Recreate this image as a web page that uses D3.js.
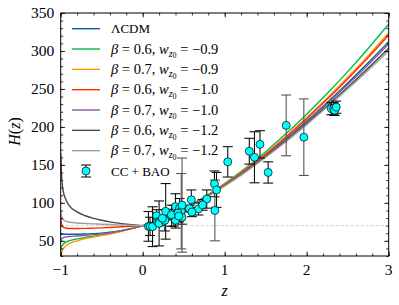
<!DOCTYPE html>
<html>
<head>
<meta charset="utf-8">
<script src="https://cdn.jsdelivr.net/npm/d3@7"></script>
<style>
	body { margin: 0; background: #fff; }
	svg { display: block; font-family: "Liberation Serif", "DejaVu Serif", serif; }
</style>
</head>
<body>
<svg id="chart"></svg>
<script>
// redshift grid the model curves were read at
const zGrid = [-0.999, -0.99, -0.97, -0.94, -0.9, -0.8, -0.7, -0.6, -0.5, -0.4, -0.3, -0.2, -0.1, 0,
	0.25, 0.5, 0.75, 1, 1.25, 1.5, 1.75, 2, 2.25, 2.5, 2.75, 3]

const hLCDM = [58.6, 58.6, 58.6, 58.6, 58.6, 58.7, 58.9, 59.4, 60.1, 61.2, 62.7, 64.7, 67.1, 70,
	79.4, 91.6, 106.3, 123.2, 142.0, 162.5, 184.4, 207.7, 232.2, 257.8, 284.5, 312.3]
const hB06W09 = [38, 42, 45.5, 48, 50, 52.5, 54.5, 56, 57.8, 59.7, 62, 64.5, 67.2, 70,
	79.6, 92.2, 107.6, 125.4, 145.4, 167.4, 191.2, 216.8, 244.0, 272.8, 303.3, 335.5]
const hB07W09 = [28, 34, 39, 43, 46, 50, 53, 55, 57, 59, 61.5, 64, 67, 70,
	79.5, 91.9, 106.9, 124.3, 143.7, 164.9, 187.8, 212.3, 238.1, 265.3, 293.9, 324.0]
const hB06W10 = [82, 72, 68, 66.8, 66.3, 66.2, 66.4, 66.7, 67.1, 67.6, 68.2, 68.8, 69.4, 70,
	79.5, 91.8, 106.7, 124.0, 143.1, 163.9, 186.7, 210.8, 236.3, 263.2, 291.4, 321.0]
const hB07W10 = [50, 52.5, 54, 55, 55.6, 56.4, 57.2, 58.1, 59.2, 60.6, 62.4, 64.6, 67.1, 70,
	79.4, 91.6, 106.2, 123.0, 141.7, 161.9, 183.5, 206.4, 230.6, 255.8, 282.0, 309.2]
const hB06W12 = [165, 138, 116, 105, 97, 88, 83, 79.5, 77, 75, 73.3, 72, 70.9, 70,
	79.3, 91.4, 105.8, 122.5, 140.7, 160.7, 181.8, 204.3, 227.7, 252.1, 277.4, 303.6]
const hB07W12 = [88, 82, 78, 76, 74.8, 73.5, 72.8, 72.3, 71.8, 71.4, 71, 70.7, 70.3, 70,
	79.3, 91.3, 105.7, 122.2, 140.2, 160.0, 180.8, 203.0, 226.1, 249.9, 274.7, 300.3]

const modelBeta = [0.6, 0.7, 0.6, 0.7, 0.6, 0.7]
const modelW = ["\u22120.9", "\u22120.9", "\u22121.0", "\u22121.0", "\u22121.2", "\u22121.2"]

// CC + BAO measurements
const obsZ = [0.07, 0.09, 0.12, 0.17, 0.179, 0.199, 0.2, 0.27, 0.28, 0.352, 0.3802, 0.4, 0.4004, 0.4247,
	0.4497, 0.47, 0.4783, 0.48, 0.593, 0.68, 0.781, 0.875, 0.88, 0.9, 1.037, 1.3, 1.363, 1.43, 1.53,
	1.75, 1.965, 0.24, 0.35, 0.43, 0.44, 0.57, 0.6, 0.73, 2.3, 2.33, 2.34, 2.36]
const obsH = [69, 69, 68.6, 83, 75, 75, 72.9, 77, 88.8, 83, 83, 95, 77, 87.1,
	92.8, 89, 80.9, 97, 104, 92, 105, 125, 90, 117, 154, 168, 160, 177, 140,
	202, 186.5, 79.69, 84.4, 86.45, 82.6, 92.4, 87.9, 97.3, 224, 224, 222, 226]
const obsErr = [19.6, 12, 26.2, 8, 4, 5, 29.6, 14, 36.6, 14, 13.5, 17, 10.2, 11.2,
	12.9, 49.6, 9, 62, 13, 8, 12, 17, 40, 23, 20, 17, 33.6, 18, 14,
	40, 50.4, 2.99, 7, 3.68, 7.8, 4.5, 6.1, 7, 8, 8, 7, 8]
const obsSet = ["a", "a", "a", "a", "a", "a", "a", "a", "a", "a", "a", "a", "a", "a",
	"a", "b", "a", "b", "a", "a", "a", "a", "b", "a", "a", "a", "a", "a", "a",
	"b", "b", "a", "a", "a", "a", "a", "a", "a", "a", "a", "a", "a"]

const xTicks = [-1, 0, 1, 2, 3]
const yTicks = [50, 100, 150, 200, 250, 300, 350]
const h0Line = 70

const colors = ["#0C5DA5", "#00B945", "#FF9500", "#FF2C00", "#845B97", "#474747", "#9e9e9e"]

function drawChart() {
	const viewWidth = 399
	const viewHeight = 305
	const margin = { left: 60.7, right: 10.3, top: 13, bottom: 49 }
	const width = viewWidth - margin.left - margin.right
	const height = viewHeight - margin.top - margin.bottom

	const svg = d3.select("#chart")
		.attr("width", viewWidth)
		.attr("height", viewHeight)
		.append("g")
		.attr("transform", "translate(" + margin.left + "," + margin.top + ")")

	const x = d3.scaleLinear().domain([-1, 3]).range([0, width])
	const y = d3.scaleLinear().domain([30, 350]).range([height, 0])

	svg.append("defs").append("clipPath")
		.attr("id", "clip")
		.append("rect")
		.attr("width", width)
		.attr("height", height)

	const plot = svg.append("g").attr("clip-path", "url(#clip)")

	// H0 reference line
	plot.append("line")
		.attr("x1", 0).attr("x2", width)
		.attr("y1", y(h0Line)).attr("y2", y(h0Line))
		.attr("stroke", "#c8c8c8")
		.attr("stroke-width", 0.8)
		.attr("stroke-dasharray", "3,2")

	const series = [hLCDM, hB06W09, hB07W09, hB06W10, hB07W10, hB06W12, hB07W12]
	const line = d3.line()
		.x(function (d, i) { return x(zGrid[i]) })
		.y(function (d) { return y(d) })
		.curve(d3.curveMonotoneX)

	plot.selectAll("path.model")
		.data(series)
		.enter()
		.append("path")
		.attr("class", "model")
		.attr("d", line)
		.attr("fill", "none")
		.attr("stroke", function (d, i) { return colors[i] })
		.attr("stroke-width", 1.4)

	// error bars, then markers on top
	const obs = obsZ.map(function (z, i) { return { z: z, h: obsH[i], e: obsErr[i], set: obsSet[i] } })
	const barColor = function (d) { return d.set === "b" ? "#555" : "#111" }
	const cap = 5

	const bars = svg.append("g").selectAll("g")
		.data(obs)
		.enter()
		.append("g")
		.attr("stroke", barColor)
		.attr("stroke-width", 1.1)

	bars.append("line")
		.attr("x1", function (d) { return x(d.z) }).attr("x2", function (d) { return x(d.z) })
		.attr("y1", function (d) { return y(d.h - d.e) }).attr("y2", function (d) { return y(d.h + d.e) })
	bars.append("line")
		.attr("x1", function (d) { return x(d.z) - cap }).attr("x2", function (d) { return x(d.z) + cap })
		.attr("y1", function (d) { return y(d.h - d.e) }).attr("y2", function (d) { return y(d.h - d.e) })
	bars.append("line")
		.attr("x1", function (d) { return x(d.z) - cap }).attr("x2", function (d) { return x(d.z) + cap })
		.attr("y1", function (d) { return y(d.h + d.e) }).attr("y2", function (d) { return y(d.h + d.e) })

	svg.append("g").selectAll("circle")
		.data(obs)
		.enter()
		.append("circle")
		.attr("cx", function (d) { return x(d.z) })
		.attr("cy", function (d) { return y(d.h) })
		.attr("r", 4)
		.attr("fill", "#00FFFF")
		.attr("stroke", "#000")
		.attr("stroke-width", 0.7)

	// axes: inward ticks on all four sides
	const xMinor = d3.range(-1, 3.001, 0.2)
	const yMinor = d3.range(30, 351, 10)

	function tickAxis(axisFn, scale, values, size) {
		return axisFn(scale).tickValues(values).tickSize(size).tickFormat("")
	}

	const axes = [
		{ fn: d3.axisBottom, s: x, t: "translate(0," + height + ")", major: xTicks, minor: xMinor },
		{ fn: d3.axisTop, s: x, t: "translate(0,0)", major: xTicks, minor: xMinor },
		{ fn: d3.axisLeft, s: y, t: "translate(0,0)", major: yTicks, minor: yMinor },
		{ fn: d3.axisRight, s: y, t: "translate(" + width + ",0)", major: yTicks, minor: yMinor }
	]
	axes.forEach(function (a) {
		[[a.major, -4.5], [a.minor, -2.5]].forEach(function (p) {
			const g = svg.append("g")
				.attr("transform", a.t)
				.call(tickAxis(a.fn, a.s, p[0], p[1]))
			g.select(".domain").remove()
			g.selectAll("line").attr("stroke", "#000").attr("stroke-width", 0.8)
		})
	})

	svg.append("rect")
		.attr("width", width)
		.attr("height", height)
		.attr("fill", "none")
		.attr("stroke", "#000")
		.attr("stroke-width", 1)

	svg.selectAll("text.xlab")
		.data(xTicks)
		.enter()
		.append("text")
		.attr("class", "xlab")
		.attr("x", function (d) { return x(d) })
		.attr("y", height + 19)
		.attr("text-anchor", "middle")
		.attr("font-size", 15.5)
		.text(function (d) { return d < 0 ? "\u2212" + Math.abs(d) : d })

	svg.selectAll("text.ylab")
		.data(yTicks)
		.enter()
		.append("text")
		.attr("class", "ylab")
		.attr("x", -6.5)
		.attr("y", function (d) { return y(d) })
		.attr("dy", "0.34em")
		.attr("text-anchor", "end")
		.attr("font-size", 15.5)
		.text(function (d) { return d })

	svg.append("text")
		.attr("x", width / 2)
		.attr("y", height + 40)
		.attr("text-anchor", "middle")
		.attr("font-size", 16)
		.attr("font-style", "italic")
		.text("z")

	const yTitle = svg.append("text")
		.attr("transform", "translate(" + (-41) + "," + (height / 2 - 3) + ") rotate(-90)")
		.attr("text-anchor", "middle")
		.attr("font-size", 16)
	yTitle.append("tspan").attr("font-style", "italic").text("H")
	yTitle.append("tspan").text("(")
	yTitle.append("tspan").attr("font-style", "italic").text("z")
	yTitle.append("tspan").text(")")

	// legend
	const legX = 11.3
	const legY0 = 15.7
	const rowH = 20.33
	const legend = svg.append("g").attr("font-size", 13)

	series.forEach(function (s, i) {
		const yy = legY0 + i * rowH
		legend.append("line")
			.attr("x1", legX).attr("x2", legX + 28)
			.attr("y1", yy).attr("y2", yy)
			.attr("stroke", colors[i])
			.attr("stroke-width", 1.4)
		const t = legend.append("text")
			.attr("x", legX + 39)
			.attr("y", yy + 4.7)
		if (i === 0) {
			t.text("\u039BCDM")
			return
		}
		t.attr("font-size", 14.5)
		t.append("tspan").attr("font-style", "italic").text("\u03B2")
		t.append("tspan").text(" = " + modelBeta[i - 1].toFixed(1) + ", ")
		t.append("tspan").attr("font-style", "italic").text("w")
		t.append("tspan").attr("font-style", "italic").attr("font-size", 10).attr("dy", 3).text("z")
		t.append("tspan").attr("font-size", 8).attr("dy", 1.5).text("0")
		t.append("tspan").attr("dy", -4.5).text(" = " + modelW[i - 1])
	})

	const ccY = legY0 + 7 * rowH
	const ccX = legX + 14
	const sym = legend.append("g").attr("stroke", "#111").attr("stroke-width", 1.1)
	sym.append("line").attr("x1", ccX).attr("x2", ccX).attr("y1", ccY - 6).attr("y2", ccY + 6)
	sym.append("line").attr("x1", ccX - cap).attr("x2", ccX + cap).attr("y1", ccY - 6).attr("y2", ccY - 6)
	sym.append("line").attr("x1", ccX - cap).attr("x2", ccX + cap).attr("y1", ccY + 6).attr("y2", ccY + 6)
	legend.append("circle")
		.attr("cx", ccX).attr("cy", ccY).attr("r", 4)
		.attr("fill", "#00FFFF").attr("stroke", "#000").attr("stroke-width", 0.7)
	legend.append("text")
		.attr("x", legX + 39)
		.attr("y", ccY + 4.7)
		.text("CC + BAO")
}

drawChart()
</script>
</body>
</html>
